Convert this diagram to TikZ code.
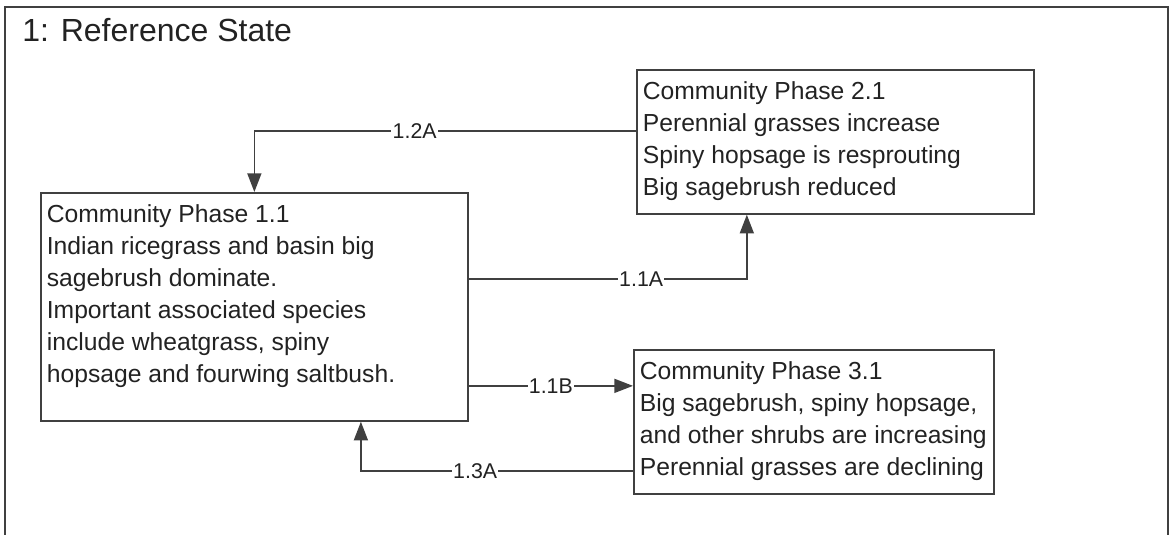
\documentclass[tikz,border=0pt]{standalone}
\usepackage{fontspec}
\setmainfont{Liberation Sans}
\usetikzlibrary{arrows.meta, positioning}

\definecolor{linegray}{HTML}{404040}
\definecolor{textgray}{HTML}{222222}

% text of one phase box: width, height, lines
\newcommand{\phasetext}[3]{\parbox[c][#2][t]{#1}{\vspace{9pt}\raggedright#3}}

\begin{document}
\begin{tikzpicture}[x=0.75pt, y=-0.75pt,
    phase/.style={draw=linegray, line width=1.3pt, anchor=north west,
        inner xsep=4.5pt, inner ysep=0pt, text=textgray,
        font=\fontsize{18.5}{24}\selectfont},
    flow/.style={draw=linegray, line width=1.2pt,
        -{Triangle[length=14pt, width=10.5pt]}},
    trans/.style={fill=white, inner sep=1pt, text=textgray,
        font=\fontsize{16}{19}\selectfont}]
    \useasboundingbox (0,0) rectangle (1171,535);

    % state frame, open at the bottom
    \draw[linegray, line width=1.3pt] (5,535) -- (5,7) -- (1168,7) -- (1168,535);
    \node[anchor=base west, inner sep=0pt, text=textgray,
        font=\fontsize{24}{28}\selectfont] (title) at (22,42) {1: Reference State};

    % --- community phases ---
    \node[phase] (p11) at (40,192) {\phasetext{311.25pt}{171pt}{%
        Community Phase 1.1\\
        Indian ricegrass and basin big\\
        sagebrush dominate.\\
        Important associated species\\
        include wheatgrass, spiny\\
        hopsage and fourwing saltbush.}};
    \node[phase] (p21) at (636,69) {\phasetext{288.75pt}{108pt}{%
        Community Phase 2.1\\
        Perennial grasses increase\\
        Spiny hopsage is resprouting\\
        Big sagebrush reduced}};
    \node[phase] (p31) at (633,349) {\phasetext{261pt}{108pt}{%
        Community Phase 3.1\\
        Big sagebrush, spiny hopsage,\\
        and other shrubs are increasing\\
        Perennial grasses are declining}};

    % --- transitions ---
    \draw[flow] ([yshift=8.25pt]p21.west) -| node[trans, pos=0.29] {1.2A} (p11.north);
    \draw[flow] ([yshift=21pt]p11.east) -| node[trans, pos=0.31] {1.1A}
        ([xshift=-66.4pt]p21.south);
    \draw[flow] ([yshift=-59.25pt]p11.east) -- node[trans] {1.1B}
        ([yshift=-59.25pt]p11.east -| p31.west);
    \draw[flow] ([yshift=-36.75pt]p31.west) -| node[trans, pos=0.29] {1.3A}
        ([xshift=79.9pt]p11.south);
\end{tikzpicture}
\end{document}
